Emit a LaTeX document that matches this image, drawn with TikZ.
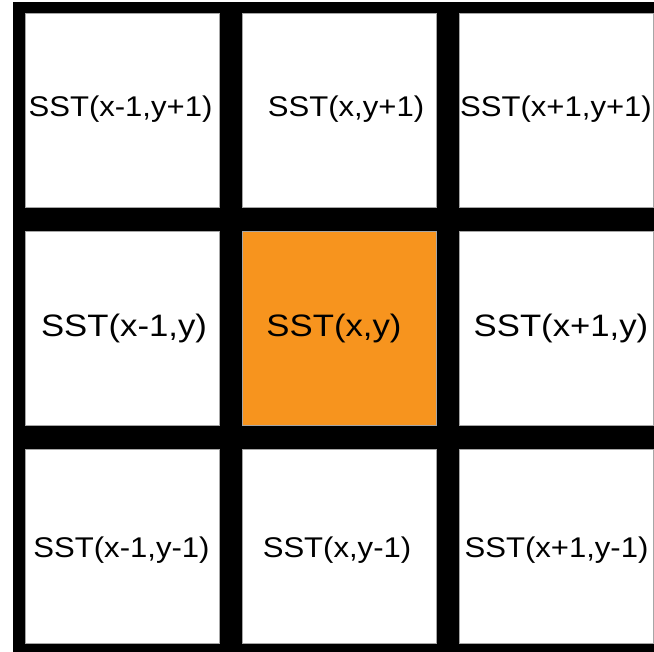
\documentclass[tikz,border=0pt]{standalone}
\usepackage{fontspec}
\setmainfont{Liberation Sans}
\definecolor{cellorange}{HTML}{F7941E}
\newcommand{\widetxt}[2]{\scalebox{#1}[1]{#2}}
\begin{document}
\begin{tikzpicture}[x=1pt,y=-1pt,
  cell/.style={fill=white,draw=black!35,line width=0.5pt,inner sep=0pt,outer sep=0pt,
    minimum width=194pt,minimum height=194pt,anchor=north west},
  lab/.style={font=\fontsize{28.5}{28.5}\selectfont,inner sep=0pt,anchor=base},
  labbig/.style={font=\fontsize{31}{31}\selectfont,inner sep=0pt,anchor=base}]
\useasboundingbox (0,0) rectangle (654,652);
\fill[black] (13,2) rectangle (654,652);
% cells
\node[cell] (c11) at (25,13) {};
\node[cell] (c12) at (242,13) {};
\node[cell] (c13) at (459,13) {};
\node[cell] (c21) at (25,231) {};
\node[cell,fill=cellorange] (c22) at (242,231) {};
\node[cell] (c23) at (459,231) {};
\node[cell] (c31) at (25,449) {};
\node[cell] (c32) at (242,449) {};
\node[cell] (c33) at (459,449) {};
% labels
\node[lab] (t11) at (120.5,117) {\widetxt{1.09}{SST(x-1,y+1)}};
\node[lab] (t12) at (346,117) {\widetxt{1.09}{SST(x,y+1)}};
\node[lab] (t13) at (556,117) {\widetxt{1.09}{SST(x+1,y+1)}};
\node[labbig] (t21) at (124,337) {\widetxt{1.12}{SST(x-1,y)}};
\node[labbig] (t22) at (334,337) {\widetxt{1.12}{SST(x,y)}};
\node[labbig] (t23) at (561,337) {\widetxt{1.12}{SST(x+1,y)}};
\node[lab] (t31) at (121.5,557) {\widetxt{1.09}{SST(x-1,y-1)}};
\node[lab] (t32) at (337,557) {\widetxt{1.09}{SST(x,y-1)}};
\node[lab] (t33) at (556.5,557) {\widetxt{1.09}{SST(x+1,y-1)}};
\end{tikzpicture}
\end{document}
